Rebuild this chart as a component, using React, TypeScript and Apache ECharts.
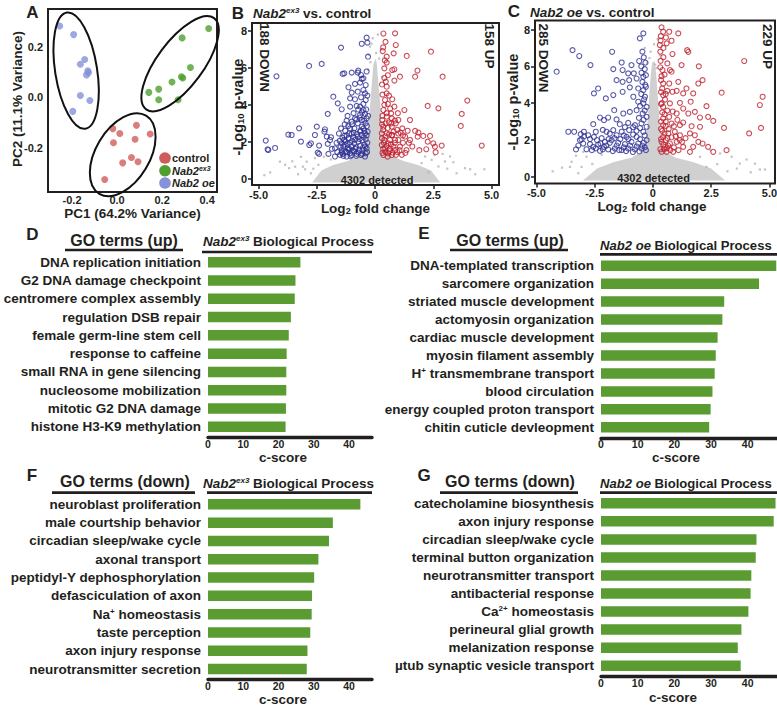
import React, { useEffect, useRef } from "react";
import * as echarts from "echarts";

const FONT = "'Liberation Sans', Arial, Helvetica, sans-serif";
const INK = "#231f20";
const BAR_GREEN = "#5a9b32";
const UP_RED = "#be1e2d";
const DOWN_BLUE = "#2e3192";
const NS_GRAY = "#b4b4b4";
const CORE_GRAY = "#d0d0d0";
const PCA_RED = "#cf5c5c";
const PCA_GREEN = "#4f9f2f";
const PCA_BLUE = "#8591d8";

// ---------- Panel A: PCA ----------
const PCA_CONTROL = [[-0.019, -0.123], [0.012, -0.142], [0.086, -0.11], [0.147, -0.144], [-0.016, -0.179], [0.08, -0.165], [0.064, -0.237], [0.025, -0.258], [0.093, -0.254], [-0.055, -0.324]];
const PCA_EX3 = [[0.289, 0.235], [0.326, 0.118], [0.286, 0.082], [0.292, 0.077], [0.244, 0.061], [0.185, 0.033], [0.141, 0.02], [0.185, -0.009], [0.271, -0.009], [0.407, 0.272]];
const PCA_OE = [[-0.255, 0.282], [-0.193, 0.248], [-0.144, 0.15], [-0.163, 0.131], [-0.13, 0.105], [-0.136, 0.089], [-0.127, 0.098], [-0.163, 0.008], [-0.121, -0.012], [-0.197, -0.055]];
// group ellipses: centre, end of major semi-axis, end of minor semi-axis (data units)
const PCA_ELLIPSE_CENTERS = [[-0.182, 0.106], [0.28, 0.133], [0.025, -0.226]];
const PCA_ELLIPSE_MAJOR = [[-0.141, -0.123], [0.431, 0.313], [0.129, -0.072]];
const PCA_ELLIPSE_MINOR = [[-0.09, 0.119], [0.362, 0.079], [0.128, -0.28]];
const PCA_X_TICKS = [-0.2, 0, 0.2, 0.4];
const PCA_Y_TICKS = [-0.2, 0, 0.2];

// ---------- Panel B: Nab2ex3 vs control ----------
const B_DOWN = [[-0.36, 7.63], [-0.33, 7.36], [-0.57, 7.3], [-1.46, 7.09], [-2.83, 6.1], [-2.29, 6.21], [-4.23, 5.54], [-0.72, 5.85], [-0.74, 5.74], [-1.0, 5.74], [-1.39, 5.67], [-1.32, 5.7], [-0.6, 5.61], [-0.57, 5.4], [-1.14, 4.95], [-0.86, 5.13], [-0.64, 5.2], [-0.5, 4.8], [-1.0, 4.66], [-0.74, 4.71], [-1.79, 4.44], [-1.07, 4.35], [-0.86, 4.3], [-0.6, 4.41], [-1.6, 4.08], [-1.43, 3.76], [-1.07, 3.9], [-0.79, 3.94], [-0.5, 4.05], [-0.43, 3.51], [-0.64, 3.45], [-2.03, 3.51], [-0.86, 3.27], [-1.0, 3.09], [-0.74, 3.0], [-1.22, 3.15], [-0.57, 2.82], [-3.26, 2.73], [-2.5, 2.82], [-2.15, 2.68], [-2.17, 2.55], [-1.46, 2.73], [-1.07, 2.73], [-0.89, 2.73], [-2.58, 2.37], [-3.72, 2.39], [-3.58, 2.37], [-2.07, 2.28], [-1.89, 2.25], [-1.32, 2.32], [-1.0, 2.43], [-3.18, 2.01], [-2.75, 1.92], [-2.82, 1.83], [-2.4, 1.8], [-2.03, 1.89], [-1.93, 2.1], [-1.72, 1.65], [-4.69, 2.07], [-4.29, 1.67], [-4.61, 1.6], [-4.58, 1.56], [-2.4, 1.35], [-2.46, 1.42], [-2.0, 1.35], [-1.72, 1.21], [-1.43, 1.56], [-1.14, 1.56], [-1.43, 1.92], [-1.26, 2.01], [-1.07, 1.96], [-0.89, 1.92], [-0.72, 2.01], [-0.54, 2.1], [-0.4, 2.14], [-1.36, 1.74], [-1.17, 1.65], [-1.0, 1.74], [-0.82, 1.71], [-0.64, 1.78], [-0.46, 1.83], [-0.36, 1.65], [-1.43, 1.42], [-1.26, 1.47], [-1.07, 1.38], [-0.89, 1.47], [-0.72, 1.42], [-0.54, 1.53], [-0.4, 1.38], [-1.32, 2.1], [-1.14, 2.19], [-0.93, 2.25], [-0.74, 2.28], [-0.57, 2.37], [-0.43, 2.46], [-1.0, 1.29], [-0.79, 1.35], [-0.6, 1.29], [-0.43, 1.21], [-1.22, 1.21], [-1.36, 1.24], [-0.64, 2.55], [-0.5, 2.73], [-0.4, 3.0], [-0.57, 3.18], [-0.36, 3.27], [-0.5, 3.72], [-0.64, 3.9], [-0.4, 4.26], [-0.43, 4.62], [-0.5, 5.43], [-0.4, 5.07], [-1.5, 1.3], [-1.38, 1.35], [-1.2, 1.45], [-1.1, 1.62], [-0.95, 1.55], [-0.85, 1.62], [-0.68, 1.58], [-0.52, 1.68], [-0.42, 1.75], [-0.33, 1.95], [-1.48, 1.72], [-1.3, 1.85], [-1.18, 1.9], [-0.98, 2.05], [-0.85, 2.12], [-0.66, 2.15], [-0.48, 2.25], [-0.36, 2.35], [-1.52, 2.05], [-1.4, 2.22], [-1.22, 2.35], [-1.1, 2.45], [-0.92, 2.5], [-0.78, 2.42], [-0.62, 2.62], [-0.46, 2.6], [-0.35, 2.85], [-1.28, 2.6], [-1.15, 2.85], [-0.98, 2.95], [-0.8, 3.2], [-0.66, 3.3], [-0.46, 3.15], [-0.38, 3.75], [-0.56, 3.6], [-0.72, 3.75], [-0.92, 3.55], [-1.18, 3.4], [-1.3, 2.95], [-1.62, 1.45], [-1.65, 1.95], [-1.85, 1.62], [-1.55, 2.45], [-0.32, 2.55], [-0.55, 1.35], [-0.8, 1.25], [-1.05, 1.22], [-0.34, 1.45], [-0.3, 3.4], [-0.33, 4.5], [-0.36, 5.8], [-0.3, 6.6]];
const B_UP = [[0.36, 7.85], [0.8, 6.78], [0.5, 6.6], [0.83, 5.92], [0.4, 5.97], [0.46, 5.25], [0.43, 4.26], [0.36, 3.72], [0.5, 3.36], [0.69, 3.54], [0.83, 3.9], [0.36, 2.82], [0.72, 2.82], [0.5, 2.46], [0.74, 2.37], [0.64, 2.1], [0.4, 2.1], [0.79, 1.74], [0.43, 1.65], [0.57, 1.38], [0.36, 1.29], [0.54, 1.2], [0.72, 1.29], [0.86, 1.56], [0.29, 1.83], [0.29, 2.46], [0.31, 3.18], [0.86, 7.86], [0.89, 7.23], [1.36, 6.64], [2.4, 6.87], [0.5, 6.28], [1.82, 5.85], [1.72, 5.52], [1.07, 5.52], [0.83, 5.31], [0.74, 5.88], [2.9, 5.52], [0.5, 4.98], [0.5, 4.62], [0.74, 4.3], [3.96, 4.23], [2.26, 3.94], [2.72, 3.81], [3.72, 3.51], [3.68, 2.86], [4.58, 1.8], [1.26, 3.72], [1.0, 3.18], [0.72, 3.27], [0.89, 3.0], [1.5, 3.18], [1.17, 2.73], [1.72, 2.59], [1.86, 2.5], [2.07, 2.32], [2.36, 2.32], [2.26, 2.01], [2.5, 1.92], [2.57, 1.74], [2.86, 1.8], [2.6, 1.44], [1.29, 2.28], [1.5, 2.1], [1.83, 2.28], [0.86, 2.1], [0.72, 2.37], [0.57, 1.92], [1.07, 1.74], [0.64, 1.62], [0.95, 1.45], [1.15, 1.3], [1.35, 1.55], [0.45, 3.0], [0.6, 3.05], [0.4, 4.0], [0.6, 4.5], [1.0, 2.45], [1.2, 1.95], [1.6, 1.75], [1.9, 1.55], [2.2, 1.6], [0.98, 3.55], [0.55, 5.6], [0.33, 6.9], [0.45, 7.4], [0.32, 1.4], [0.45, 1.45], [0.62, 1.5], [0.75, 1.42], [0.9, 1.3], [1.05, 1.55], [0.35, 1.62], [0.5, 1.78], [0.68, 1.85], [0.85, 1.95], [1.0, 2.1], [0.3, 2.2], [0.45, 2.3], [0.6, 2.4], [0.8, 2.55], [0.95, 2.65], [1.1, 2.5], [0.35, 2.65], [0.55, 2.75], [0.7, 3.0], [0.85, 3.15], [0.32, 3.4], [0.5, 3.55], [0.65, 3.8], [0.32, 4.55], [0.55, 4.05], [0.3, 5.1], [0.4, 5.45], [1.3, 1.4], [1.45, 1.95], [1.2, 2.35], [1.4, 2.6], [0.38, 1.95], [0.3, 2.95], [0.42, 6.4], [0.35, 7.1]];
const B_NS = [[-4.08, 0.93], [-3.86, 0.76], [-3.69, 0.58], [-3.43, 0.66], [-3.18, 1.19], [-3.09, 0.66], [-2.93, 0.93], [-3.0, 0.52], [-2.58, 1.12], [-2.43, 0.76], [-4.5, 0.35], [-4.75, 0.2], [-3.3, 0.25], [-2.75, 0.3], [-2.2, 1.2], [-1.9, 1.05], [-3.55, 0.95], [-2.65, 0.55], [2.0, 0.85], [2.43, 1.03], [3.0, 0.94], [3.36, 0.9], [3.86, 0.58], [4.08, 0.52], [4.69, 0.52], [3.22, 1.21], [2.15, 1.21], [2.72, 0.67], [3.5, 0.3], [2.9, 1.35], [2.3, 0.35], [4.3, 0.25], [3.1, 0.55], [2.55, 1.3], [-0.28, 6.7], [-0.2, 6.3], [0.25, 7.0], [-0.3, 5.9], [0.32, 5.5], [-0.1, 7.6], [0.12, 7.8], [-0.22, 7.15], [0.05, 6.8], [-0.15, 7.3], [0.18, 6.5]];
// outline of the dense cloud of non-significant genes
const B_CORE = [[-2.7, -0.2], [-2.3, 0.45], [-1.8, 0.75], [-1.2, 0.95], [-0.65, 1.25], [-0.38, 1.9], [-0.28, 3.0], [-0.2, 4.2], [-0.13, 5.3], [-0.07, 6.2], [0.03, 6.5], [0.08, 6.2], [0.14, 5.2], [0.22, 4.2], [0.28, 3.0], [0.42, 1.9], [0.68, 1.25], [1.25, 0.95], [1.85, 0.75], [2.4, 0.45], [2.8, -0.2]];

// ---------- Panel C: Nab2 oe vs control ----------
const C_DOWN = [[-3.45, 6.88], [-3.16, 6.56], [-4.13, 5.71], [-3.63, 2.45], [-3.38, 2.45], [-3.13, 1.99], [-3.06, 2.03], [-3.3, 1.49], [-0.41, 7.79], [-0.56, 7.52], [-1.75, 6.79], [-2.68, 6.07], [-1.34, 6.21], [-0.92, 6.07], [-0.59, 6.29], [-0.39, 6.49], [-1.7, 5.85], [-1.3, 5.8], [-1.06, 5.62], [-0.82, 5.62], [-0.49, 5.65], [-1.56, 5.25], [-1.3, 5.16], [-1.02, 5.25], [-0.7, 5.34], [-0.41, 5.43], [-2.35, 4.8], [-2.53, 4.53], [-2.02, 4.26], [-1.7, 4.44], [-1.3, 4.62], [-0.99, 4.86], [-0.63, 4.8], [-0.41, 4.71], [-0.34, 4.35], [-0.84, 4.35], [-0.63, 4.08], [-0.41, 3.99], [-2.27, 3.22], [-1.66, 3.62], [-1.27, 3.44], [-0.99, 3.53], [-0.7, 3.62], [-0.44, 3.44], [-2.56, 2.86], [-2.1, 3.08], [-1.92, 3.22], [-1.56, 3.12], [-1.42, 2.86], [-1.06, 2.93], [-0.77, 2.81], [-0.49, 2.9], [-2.96, 2.45], [-3.1, 2.32], [-2.78, 2.26], [-2.53, 2.17], [-2.45, 2.45], [-1.99, 2.45], [-1.7, 2.54], [-1.34, 2.45], [-1.02, 2.54], [-0.7, 2.5], [-0.41, 2.45], [-2.25, 1.81], [-2.06, 1.9], [-1.77, 1.99], [-1.49, 1.85], [-1.2, 1.78], [-0.92, 1.9], [-0.63, 1.81], [-0.39, 1.85], [-2.7, 1.78], [-2.56, 1.63], [-2.99, 1.81], [-2.27, 1.41], [-1.92, 1.49], [-1.63, 1.54], [-1.34, 1.45], [-1.06, 1.54], [-0.77, 1.49], [-0.49, 1.54], [-0.3, 1.45], [-0.27, 1.99], [-0.27, 2.72], [-0.27, 3.26], [-0.27, 3.8], [-0.3, 4.89], [-0.3, 5.52], [-2.1, 1.63], [-0.7, 2.17], [-1.13, 2.17], [-1.56, 2.26], [-2.85, 1.5], [-2.62, 1.45], [-2.45, 1.55], [-2.35, 1.75], [-2.15, 1.5], [-2.0, 1.7], [-1.85, 1.85], [-1.72, 1.4], [-1.55, 1.7], [-1.45, 1.45], [-1.25, 1.6], [-1.15, 1.4], [-0.98, 1.7], [-0.86, 1.35], [-0.7, 1.65], [-0.58, 1.38], [-0.45, 1.7], [-0.35, 1.6], [-2.4, 2.0], [-2.2, 2.1], [-1.9, 2.05], [-1.65, 2.1], [-1.4, 2.05], [-1.25, 2.25], [-1.05, 2.05], [-0.85, 2.3], [-0.55, 2.05], [-0.35, 2.25], [-0.55, 2.65], [-0.85, 2.7], [-1.2, 2.7], [-0.4, 3.1], [-0.6, 3.2], [-0.35, 3.6], [-0.55, 3.85], [-0.38, 4.2], [-0.5, 4.5], [-0.33, 5.0], [-0.45, 5.15], [-0.35, 5.85], [-0.5, 6.0], [-0.32, 6.2], [-0.45, 6.8], [-1.85, 2.35], [-2.15, 2.55], [-2.7, 2.05], [-3.2, 1.7], [-2.95, 2.2]];
const C_UP = [[0.37, 8.12], [0.44, 7.88], [0.7, 7.88], [1.09, 7.79], [0.56, 7.57], [0.34, 7.64], [0.8, 7.39], [0.59, 7.25], [0.3, 7.16], [1.47, 6.88], [1.52, 6.79], [0.84, 6.67], [3.92, 6.29], [0.33, 6.3], [0.62, 6.16], [0.41, 5.8], [0.73, 5.8], [0.8, 5.71], [1.23, 6.07], [1.97, 6.0], [0.37, 5.47], [1.09, 5.16], [2.13, 5.25], [1.95, 5.07], [0.44, 5.07], [0.7, 5.07], [2.95, 4.57], [4.71, 4.35], [4.59, 3.9], [1.44, 4.8], [0.62, 4.67], [0.84, 4.62], [1.02, 4.67], [1.3, 4.53], [0.44, 4.44], [1.73, 4.53], [1.62, 4.08], [1.16, 4.02], [0.73, 3.99], [0.44, 3.8], [2.3, 3.84], [1.8, 3.53], [1.52, 3.44], [1.3, 3.71], [1.02, 3.44], [2.02, 3.22], [2.37, 3.26], [2.59, 3.04], [0.7, 3.26], [0.44, 3.17], [3.05, 2.66], [4.64, 2.66], [4.13, 2.36], [2.02, 2.72], [1.66, 2.75], [1.16, 2.81], [0.8, 2.9], [0.44, 2.81], [1.59, 2.36], [1.8, 2.26], [1.16, 2.26], [0.94, 2.45], [0.66, 2.36], [0.44, 2.17], [2.13, 1.81], [2.37, 1.63], [2.59, 1.36], [3.16, 1.45], [1.95, 1.9], [1.73, 1.63], [1.3, 1.63], [1.02, 1.9], [0.73, 1.81], [0.52, 1.63], [0.37, 1.9], [1.59, 1.36], [0.87, 1.36], [0.59, 1.36], [0.37, 1.36], [0.4, 2.5], [0.55, 2.0], [0.48, 1.5], [0.65, 1.7], [0.4, 3.5], [0.55, 3.0], [0.38, 4.0], [0.4, 4.8], [0.32, 1.5], [0.45, 1.75], [0.6, 1.55], [0.75, 1.45], [0.9, 1.6], [1.1, 1.45], [0.35, 2.05], [0.5, 2.35], [0.62, 2.1], [0.8, 2.15], [0.98, 2.2], [1.15, 2.0], [0.35, 2.6], [0.55, 2.75], [0.68, 2.6], [0.9, 2.75], [0.35, 3.0], [0.5, 3.4], [0.62, 3.6], [0.35, 3.95], [0.52, 4.2], [0.35, 4.6], [0.55, 4.5], [0.35, 5.25], [0.5, 5.55], [0.32, 5.95], [0.45, 6.5], [0.32, 6.8], [0.45, 7.0], [0.33, 7.4], [1.25, 1.9], [1.4, 2.1], [1.3, 2.95], [0.85, 3.55], [1.05, 3.1]];
const C_NS = [[2.47, 1.45], [2.88, 1.27], [3.38, 1.09], [3.73, 0.72], [4.02, 0.94], [4.38, 0.72], [4.81, 0.4], [4.59, 0.4], [2.76, 0.69], [2.3, 0.54], [2.02, 1.09], [3.2, 0.3], [3.6, 0.45], [4.2, 0.25], [-2.85, 1.09], [-2.99, 1.36], [-3.06, 0.54], [-3.49, 0.82], [-3.56, 0.54], [-3.3, 1.15], [-2.6, 0.7], [-2.2, 1.2], [-3.9, 0.5], [-4.3, 0.3], [-3.2, 0.2], [-0.1, 6.8], [0.05, 7.2], [-0.25, 6.2], [0.3, 6.6], [0.2, 7.5], [-0.35, 7.0], [0.15, 5.9], [-0.15, 6.45], [0.1, 6.1]];
const C_CORE = [[-3.0, -0.2], [-2.4, 0.45], [-1.7, 0.8], [-0.9, 1.05], [-0.4, 1.45], [-0.26, 2.5], [-0.2, 3.5], [-0.15, 4.6], [-0.09, 5.6], [-0.03, 6.2], [0.07, 6.3], [0.14, 5.6], [0.2, 4.6], [0.26, 3.5], [0.31, 2.5], [0.42, 1.45], [0.95, 1.05], [1.75, 0.8], [2.5, 0.45], [3.1, -0.2]];
const VOLCANO_X_TICKS = [-5, -2.5, 0, 2.5, 5];
const VOLCANO_Y_TICKS = [0, 2, 4, 6, 8];

// ---------- Panels D-G: GO terms ----------
const D_TERMS = ["DNA replication initiation", "G2 DNA damage checkpoint", "centromere complex assembly", "regulation DSB repair", "female germ-line stem cell", "response to caffeine", "small RNA in gene silencing", "nucleosome mobilization", "mitotic G2 DNA damage", "histone H3-K9 methylation"];
const D_SCORES = [26.2, 24.8, 24.6, 23.5, 22.9, 22.3, 22.2, 22.2, 22.1, 22.0];
const E_TERMS = ["DNA-templated transcription", "sarcomere organization", "striated muscle development", "actomyosin organization", "cardiac muscle development", "myosin filament assembly", "H^+ transmembrane transport", "blood circulation", "energy coupled proton transport", "chitin cuticle devleopment"];
const E_SCORES = [47.8, 43.1, 33.6, 33.1, 31.8, 31.3, 31.0, 30.4, 29.9, 29.5];
const F_TERMS = ["neuroblast proliferation", "male courtship behavior", "circadian sleep/wake cycle", "axonal transport", "peptidyl-Y dephosphorylation", "defasciculation of axon", "Na^+ homeostasis", "taste perception", "axon injury response", "neurotransmitter secretion"];
const F_SCORES = [43.2, 35.4, 34.3, 31.3, 30.1, 29.5, 29.4, 29.0, 28.2, 28.0];
const G_TERMS = ["catecholamine biosynthesis", "axon injury response", "circadian sleep/wake cycle", "terminal button organization", "neurotransmitter transport", "antibacterial response", "Ca^2+ homeostasis", "perineural glial growth", "melanization response", "µtub synaptic vesicle transport"];
const G_SCORES = [47.6, 47.1, 42.4, 42.2, 41.0, 40.8, 40.2, 38.3, 37.3, 38.1];
const CSCORE_TICKS = [0, 10, 20, 30, 40];

// ---------- helpers ----------
const richSet = (size: number, small: number) => ({
  t: { fontSize: size, fontWeight: "bold", fontFamily: FONT, fill: INK, color: INK },
  i: { fontSize: size, fontWeight: "bold", fontStyle: "italic", fontFamily: FONT, fill: INK, color: INK },
  s: { fontSize: small, fontWeight: "bold", fontStyle: "italic", fontFamily: FONT, fill: INK, color: INK, verticalAlign: "top" },
  b: { fontSize: small, fontWeight: "bold", fontFamily: FONT, fill: INK, color: INK, verticalAlign: "bottom" },
});

const T = (x: number, y: number, text: string, o: any = {}) => ({
  type: "text",
  x,
  y,
  rotation: o.rotation || 0,
  silent: true,
  z: 100,
  style: {
    text,
    x: 0,
    y: 0,
    fill: INK,
    fontFamily: FONT,
    fontWeight: "bold",
    fontStyle: o.italic ? "italic" : "normal",
    fontSize: o.size || 13.5,
    align: o.align || "center",
    verticalAlign: "middle",
    ...(o.rich ? { rich: o.rich } : {}),
  },
});

const L = (x1: number, y1: number, x2: number, y2: number, w = 2.7) => ({
  type: "line",
  silent: true,
  z: 100,
  shape: { x1, y1, x2, y2 },
  style: { stroke: INK, lineWidth: w },
});

const termLabel = (v: string) => "{t|" + v.replace(/\^(\S+)/g, "}{s|$1}{t|") + "}";

function buildOption() {
  const lab = { color: INK, fontFamily: FONT, fontWeight: "bold" };

  const valueAxis = (grid: number, min: number, max: number, ticks: number[], fmt: (v: number) => string, margin: number, showTicks: boolean) => ({
    type: "value",
    gridIndex: grid,
    min,
    max,
    axisLine: { show: false, onZero: false },
    axisTick: showTicks
      ? { show: true, length: 4, customValues: ticks, lineStyle: { color: INK, width: 1.5 } }
      : { show: false },
    splitLine: { show: false },
    axisLabel: { ...lab, fontSize: 11, margin, customValues: ticks, formatter: fmt },
  });

  const scoreAxis = (grid: number, max: number, offset: number) => ({
    type: "value",
    gridIndex: grid,
    min: 0,
    max,
    offset,
    axisLine: { show: true, onZero: false, lineStyle: { color: INK, width: 3.3 } },
    axisTick: { show: false },
    splitLine: { show: false },
    axisLabel: { ...lab, fontSize: 10.5, margin: 1, customValues: CSCORE_TICKS, formatter: (v: number) => String(v) },
  });

  const termAxis = (grid: number, terms: string[]) => ({
    type: "category",
    gridIndex: grid,
    data: terms,
    inverse: true,
    axisLine: { show: false },
    axisTick: { show: false },
    splitLine: { show: false },
    axisLabel: {
      ...lab,
      fontSize: 13.5,
      margin: 7,
      interval: 0,
      formatter: termLabel,
      rich: {
        t: { fontSize: 13.5, fontWeight: "bold", fontFamily: FONT, color: INK },
        s: { fontSize: 8, fontWeight: "bold", fontFamily: FONT, color: INK, verticalAlign: "top" },
      },
    },
  });

  const pcaFmt = (v: number) => v.toFixed(1);
  const volFmt = (v: number) => (v === 0 ? "0" : v.toFixed(1));
  const intFmt = (v: number) => String(v);

  const core = (ax: number, poly: number[][]) => ({
    type: "custom",
    xAxisIndex: ax,
    yAxisIndex: ax,
    silent: true,
    z: 1,
    data: [[0, 0]],
    renderItem: (_p: any, api: any) => ({
      type: "polygon",
      shape: { points: poly.map((p) => api.coord(p)) },
      style: { fill: CORE_GRAY },
    }),
  });

  const dots = (ax: number, data: number[][]) => ({
    type: "scatter",
    xAxisIndex: ax,
    yAxisIndex: ax,
    silent: true,
    z: 2,
    symbol: "rect",
    symbolSize: 2.2,
    data,
    itemStyle: { color: NS_GRAY },
  });

  const rings = (ax: number, data: number[][], color: string) => ({
    type: "scatter",
    xAxisIndex: ax,
    yAxisIndex: ax,
    silent: true,
    z: 3,
    symbol: "circle",
    symbolSize: 5,
    data,
    itemStyle: { color: "rgba(0,0,0,0)", borderColor: color, borderWidth: 1.1 },
  });

  const pcaPts = (data: number[][], color: string) => ({
    type: "scatter",
    xAxisIndex: 0,
    yAxisIndex: 0,
    silent: true,
    z: 3,
    symbol: "circle",
    symbolSize: 7,
    data,
    itemStyle: { color },
  });

  const bars = (ax: number, data: number[]) => ({
    type: "bar",
    xAxisIndex: ax,
    yAxisIndex: ax,
    silent: true,
    data,
    barWidth: 10.5,
    itemStyle: { color: BAR_GREEN },
  });

  const gridBox = { show: true, borderColor: INK, borderWidth: 2, backgroundColor: "transparent", outerBoundsMode: "none" };
  const gridPlain = { show: false, outerBoundsMode: "none" };

  const graphics: any[] = [
    // panel letters
    T(32.5, 12.5, "A", { size: 17 }),
    T(238, 13, "B", { size: 17 }),
    T(514, 11.5, "C", { size: 17 }),
    T(32.5, 234, "D", { size: 17 }),
    T(424, 233, "E", { size: 17 }),
    T(32, 475, "F", { size: 17 }),
    T(424, 475, "G", { size: 17 }),
    // panel A axis names
    T(132.5, 213, "PC1 (64.2% Variance)", { size: 13.5 }),
    T(17.5, 99, "PC2 (11.1% Variance)", { size: 13.5, rotation: Math.PI / 2 }),
    // panel A legend
    { type: "circle", silent: true, z: 100, shape: { cx: 165, cy: 158, r: 5.8 }, style: { fill: PCA_RED } },
    { type: "circle", silent: true, z: 100, shape: { cx: 165, cy: 170.7, r: 5.8 }, style: { fill: PCA_GREEN } },
    { type: "circle", silent: true, z: 100, shape: { cx: 165, cy: 183, r: 5.8 }, style: { fill: PCA_BLUE } },
    T(172, 158, "control", { size: 11, align: "left" }),
    T(172, 170.7, "{i|Nab2}{s|ex3}", { size: 11, align: "left", rich: richSet(11, 7) }),
    T(172, 183, "{i|Nab2 oe}", { size: 11, align: "left", rich: richSet(11, 7) }),
    // volcano titles
    T(253, 13, "{i|Nab2}{s|ex3}{t| vs. control}", { align: "left", rich: richSet(13.5, 8) }),
    T(530, 12, "{i|Nab2 oe}{t| vs. control}", { align: "left", rich: richSet(13.5, 8) }),
    // volcano annotations
    T(264.5, 57.5, "188 DOWN", { size: 13.5, rotation: -Math.PI / 2 }),
    T(489, 46, "158 UP", { size: 13.5, rotation: -Math.PI / 2 }),
    T(543, 58, "285 DOWN", { size: 13.5, rotation: -Math.PI / 2 }),
    T(767.5, 46.5, "229 UP", { size: 13.5, rotation: -Math.PI / 2 }),
    T(377, 179.5, "4302 detected", { size: 11 }),
    T(653.5, 178, "4302 detected", { size: 11 }),
    // volcano axis names
    T(237.5, 107, "{t|-Log}{b|10}{t| p-value}", { rotation: Math.PI / 2, rich: richSet(14.5, 9.5) }),
    T(513, 102, "{t|-Log}{b|10}{t| p-value}", { rotation: Math.PI / 2, rich: richSet(14.5, 9.5) }),
    T(375.5, 208, "{t|Log}{b|2}{t| fold change}", { rich: richSet(13.5, 9) }),
    T(652, 206.5, "{t|Log}{b|2}{t| fold change}", { rich: richSet(13.5, 9) }),
    // GO headers
    T(124, 240.3, "GO terms (up)", { size: 16 }),
    L(65, 250, 183, 250),
    T(203, 241.7, "{i|Nab2}{s|ex3}{t| Biological Process}", { align: "left", rich: richSet(13.5, 8) }),
    L(202, 252, 372, 252),
    T(510, 240.5, "GO terms (up)", { size: 16 }),
    L(450, 250, 568, 250),
    T(600, 245, "{i|Nab2 oe}{t| Biological Process}", { align: "left", rich: richSet(13.1, 8) }),
    L(600, 254.3, 777, 254.3),
    T(125, 481, "GO terms (down)", { size: 16 }),
    L(52, 492.7, 195, 492.7),
    T(203, 483, "{i|Nab2}{s|ex3}{t| Biological Process}", { align: "left", rich: richSet(13.5, 8) }),
    L(207, 492.7, 372, 492.7),
    T(510, 481, "GO terms (down)", { size: 16 }),
    L(440, 492.7, 578, 492.7),
    T(600, 483, "{i|Nab2 oe}{t| Biological Process}", { align: "left", rich: richSet(13.1, 8) }),
    L(600, 492.7, 777, 492.7),
    // c-score axis names
    T(283, 457.5, "c-score", { size: 13.5 }),
    T(676, 457, "c-score", { size: 13.5 }),
    T(283, 699.5, "c-score", { size: 13.5 }),
    T(673, 697, "c-score", { size: 13.5 }),
  ];

  return {
    animation: false,
    backgroundColor: "#ffffff",
    textStyle: { fontFamily: FONT },
    grid: [
      { ...gridBox, left: 48, top: 9, width: 169, height: 183 },
      { ...gridBox, left: 252, top: 23, width: 247, height: 162 },
      { ...gridBox, left: 535, top: 20.5, width: 240, height: 163 },
      { ...gridPlain, left: 208, top: 253.2, width: 164, height: 182.6 },
      { ...gridPlain, left: 601, top: 256.7, width: 176, height: 179.6 },
      { ...gridPlain, left: 208, top: 495.2, width: 164, height: 183 },
      { ...gridPlain, left: 601, top: 494.3, width: 176, height: 180.4 },
    ],
    xAxis: [
      valueAxis(0, -0.307, 0.444, PCA_X_TICKS, pcaFmt, 2, false),
      valueAxis(1, -5.28, 5.32, VOLCANO_X_TICKS, volFmt, 4, true),
      valueAxis(2, -5.06, 5.24, VOLCANO_X_TICKS, volFmt, 4, true),
      scoreAxis(3, 46.5, 1.5),
      scoreAxis(4, 48, 1.5),
      scoreAxis(5, 46.5, 1.5),
      scoreAxis(6, 48, 2),
    ],
    yAxis: [
      valueAxis(0, -0.373, 0.349, PCA_Y_TICKS, pcaFmt, 5, false),
      valueAxis(1, -0.33, 8.42, VOLCANO_Y_TICKS, intFmt, 5, true),
      valueAxis(2, -0.36, 8.49, VOLCANO_Y_TICKS, intFmt, 5, true),
      termAxis(3, D_TERMS),
      termAxis(4, E_TERMS),
      termAxis(5, F_TERMS),
      termAxis(6, G_TERMS),
    ],
    series: [
      pcaPts(PCA_CONTROL, PCA_RED),
      pcaPts(PCA_EX3, PCA_GREEN),
      pcaPts(PCA_OE, PCA_BLUE),
      {
        type: "custom",
        xAxisIndex: 0,
        yAxisIndex: 0,
        silent: true,
        z: 4,
        data: PCA_ELLIPSE_CENTERS,
        renderItem: (params: any, api: any) => {
          const i = params.dataIndex;
          const c = api.coord(PCA_ELLIPSE_CENTERS[i]);
          const m = api.coord(PCA_ELLIPSE_MAJOR[i]);
          const n = api.coord(PCA_ELLIPSE_MINOR[i]);
          const rx = Math.hypot(m[0] - c[0], m[1] - c[1]);
          const ry = Math.hypot(n[0] - c[0], n[1] - c[1]);
          const rot = Math.atan2(-(m[1] - c[1]), m[0] - c[0]);
          return {
            type: "ellipse",
            x: c[0],
            y: c[1],
            rotation: rot,
            shape: { cx: 0, cy: 0, rx, ry },
            style: { fill: "none", stroke: "#111111", lineWidth: 2 },
          };
        },
      },
      core(1, B_CORE),
      dots(1, B_NS),
      rings(1, B_DOWN, DOWN_BLUE),
      rings(1, B_UP, UP_RED),
      core(2, C_CORE),
      dots(2, C_NS),
      rings(2, C_DOWN, DOWN_BLUE),
      rings(2, C_UP, UP_RED),
      bars(3, D_SCORES),
      bars(4, E_SCORES),
      bars(5, F_SCORES),
      bars(6, G_SCORES),
    ],
    graphic: graphics,
  };
}

export default function App() {
  const ref = useRef<HTMLDivElement>(null);
  useEffect(() => {
    document.body.style.margin = "0";
    const chart = echarts.init(ref.current as HTMLDivElement, null, { renderer: "svg" });
    chart.setOption(buildOption() as any);
    return () => {
      chart.dispose();
    };
  }, []);
  return <div ref={ref} style={{ width: 777, height: 708, background: "#fff" }} />;
}
